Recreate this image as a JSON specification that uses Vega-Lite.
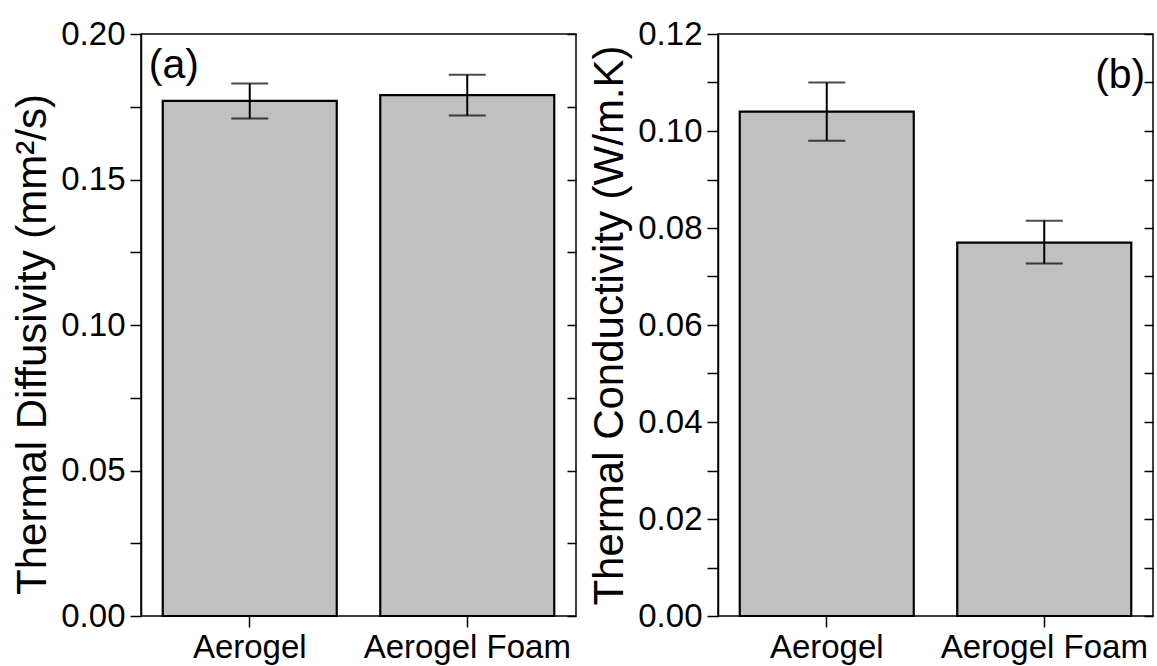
{
  "$schema": "https://vega.github.io/schema/vega-lite/v6.json",
  "padding": {"left": 11, "top": 17, "right": 0, "bottom": 0},
  "background": "white",
  "spacing": 10,
  "config": {
    "font": "Liberation Sans",
    "view": {"stroke": "black", "strokeWidth": 1.5},
    "axis": {
      "grid": false,
      "domainColor": "black",
      "domainWidth": 1.5,
      "tickColor": "black",
      "tickWidth": 1.5,
      "labelColor": "black",
      "labelFont": "Liberation Sans",
      "titleFont": "Liberation Sans",
      "titleColor": "black",
      "titleFontWeight": "normal",
      "labelLimit": 0
    }
  },
  "hconcat": [
    {
      "width": 435,
      "height": 582,
      "data": {"values": [
        {"material": "Aerogel", "value": 0.177, "lo": 0.171, "hi": 0.183},
        {"material": "Aerogel Foam", "value": 0.179, "lo": 0.172, "hi": 0.186}
      ]},
      "resolve": {"axis": {"y": "independent"}},
      "layer": [
        {
          "mark": {"type": "bar", "fill": "#c0c0c0", "stroke": "black", "strokeWidth": 2.2},
          "encoding": {
            "x": {"field": "material", "type": "nominal", "sort": null,
              "scale": {"paddingInner": 0.2, "paddingOuter": 0.1},
              "axis": {"title": null, "labelAngle": 0, "labelFontSize": 33, "tickSize": 11, "labelPadding": 4, "domain": false}},
            "y": {"field": "value", "type": "quantitative",
              "scale": {"domain": [0, 0.2], "nice": false, "zero": true},
              "axis": {"orient": "left", "title": "Thermal Diffusivity (mm²/s)", "titleFontSize": 42, "titlePadding": 6, "titleY": 310,
                "labelFontSize": 33, "labelPadding": 5, "tickSize": 11,
                "values": [0, 0.025, 0.05, 0.075, 0.1, 0.125, 0.15, 0.175, 0.2],
                "labelExpr": "abs(datum.value*20 - round(datum.value*20)) < 0.001 ? format(datum.value, '.2f') : ''"}}
          }
        },
        {
          "mark": {"type": "rule", "color": "black", "strokeWidth": 2},
          "encoding": {
            "x": {"field": "material", "type": "nominal", "sort": null},
            "y": {"field": "lo", "type": "quantitative",
              "axis": {"orient": "right", "title": null, "labels": false, "domain": false, "tickSize": 9, "offset": -9,
                "values": [0, 0.025, 0.05, 0.075, 0.1, 0.125, 0.15, 0.175, 0.2]}},
            "y2": {"field": "hi"}
          }
        },
        {
          "mark": {"type": "tick", "color": "black", "thickness": 2, "size": 37},
          "encoding": {
            "x": {"field": "material", "type": "nominal", "sort": null},
            "y": {"field": "lo", "type": "quantitative", "axis": null}
          }
        },
        {
          "mark": {"type": "tick", "color": "black", "thickness": 2, "size": 37},
          "encoding": {
            "x": {"field": "material", "type": "nominal", "sort": null},
            "y": {"field": "hi", "type": "quantitative", "axis": null}
          }
        },
        {
          "data": {"values": [{"label": "(a)", "pos": 0.189}]},
          "mark": {"type": "text", "fontSize": 41, "align": "left", "baseline": "middle", "dx": -14, "color": "black"},
          "encoding": {
            "x": {"datum": "Aerogel", "type": "nominal", "bandPosition": 0},
            "y": {"field": "pos", "type": "quantitative", "axis": null},
            "text": {"field": "label"}
          }
        }
      ]
    },
    {
      "width": 435,
      "height": 582,
      "data": {"values": [
        {"material": "Aerogel", "value": 0.104, "lo": 0.098, "hi": 0.110},
        {"material": "Aerogel Foam", "value": 0.077, "lo": 0.0727, "hi": 0.0815}
      ]},
      "resolve": {"axis": {"y": "independent"}},
      "layer": [
        {
          "mark": {"type": "bar", "fill": "#c0c0c0", "stroke": "black", "strokeWidth": 2.2},
          "encoding": {
            "x": {"field": "material", "type": "nominal", "sort": null,
              "scale": {"paddingInner": 0.2, "paddingOuter": 0.1},
              "axis": {"title": null, "labelAngle": 0, "labelFontSize": 33, "tickSize": 11, "labelPadding": 4, "domain": false}},
            "y": {"field": "value", "type": "quantitative",
              "scale": {"domain": [0, 0.12], "nice": false, "zero": true},
              "axis": {"orient": "left", "title": "Thermal Conductivity (W/m.K)", "titleFontSize": 42, "titlePadding": 6,
                "labelFontSize": 33, "labelPadding": 5, "tickSize": 11,
                "values": [0, 0.01, 0.02, 0.03, 0.04, 0.05, 0.06, 0.07, 0.08, 0.09, 0.1, 0.11, 0.12],
                "labelExpr": "abs(datum.value*50 - round(datum.value*50)) < 0.001 ? format(datum.value, '.2f') : ''"}}
          }
        },
        {
          "mark": {"type": "rule", "color": "black", "strokeWidth": 2},
          "encoding": {
            "x": {"field": "material", "type": "nominal", "sort": null},
            "y": {"field": "lo", "type": "quantitative",
              "axis": {"orient": "right", "title": null, "labels": false, "domain": false, "tickSize": 9, "offset": -9,
                "values": [0, 0.01, 0.02, 0.03, 0.04, 0.05, 0.06, 0.07, 0.08, 0.09, 0.1, 0.11, 0.12]}},
            "y2": {"field": "hi"}
          }
        },
        {
          "mark": {"type": "tick", "color": "black", "thickness": 2, "size": 37},
          "encoding": {
            "x": {"field": "material", "type": "nominal", "sort": null},
            "y": {"field": "lo", "type": "quantitative", "axis": null}
          }
        },
        {
          "mark": {"type": "tick", "color": "black", "thickness": 2, "size": 37},
          "encoding": {
            "x": {"field": "material", "type": "nominal", "sort": null},
            "y": {"field": "hi", "type": "quantitative", "axis": null}
          }
        },
        {
          "data": {"values": [{"label": "(b)", "pos": 0.1113}]},
          "mark": {"type": "text", "fontSize": 41, "align": "right", "baseline": "middle", "dx": 14, "color": "black"},
          "encoding": {
            "x": {"datum": "Aerogel Foam", "type": "nominal", "bandPosition": 1},
            "y": {"field": "pos", "type": "quantitative", "axis": null},
            "text": {"field": "label"}
          }
        }
      ]
    }
  ]
}
